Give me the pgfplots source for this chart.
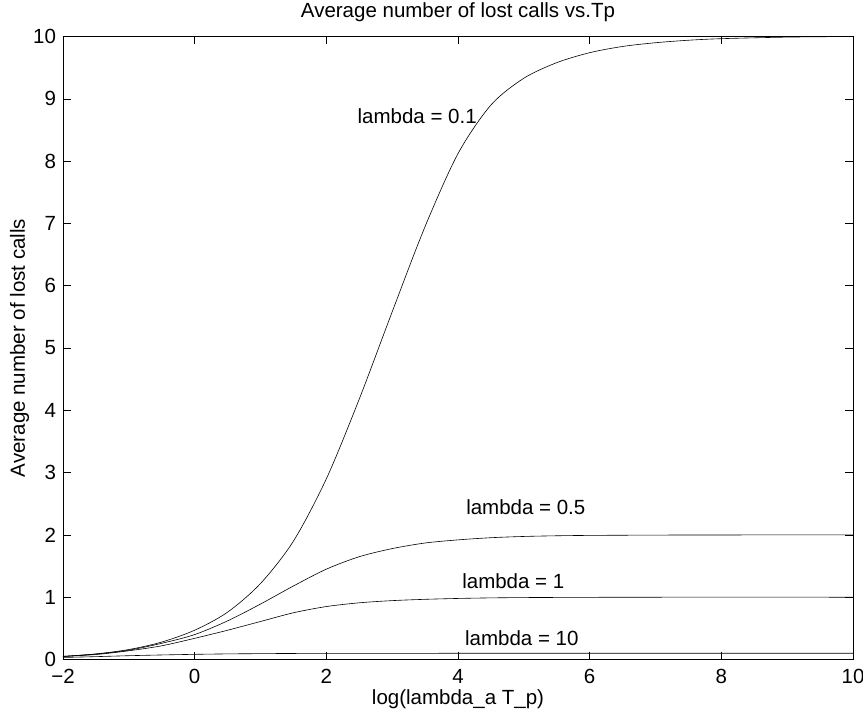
\documentclass[border=0pt]{standalone}
\usepackage{fontspec}
\setmainfont{Liberation Sans}
\usepackage{pgfplots}
\pgfplotsset{compat=1.18}
\begin{document}
\fontsize{20.5}{24}\selectfont
\begin{tikzpicture}
\begin{axis}[
  width=790pt, height=623pt, scale only axis,
  xmin=-2, xmax=10, ymin=0, ymax=10,
  xtick={-2,0,2,4,6,8,10},
  xticklabels={−2,0,2,4,6,8,10},
  ytick={0,1,...,10},
  /pgf/number format/assume math mode=true,
  tick align=inside, tick pos=both,
  major tick length=8pt,
  every tick/.style={black, line width=0.5pt},
  axis line style={line width=0.6pt},
  tick label style={font=\fontsize{20.5}{24}\selectfont},
  xticklabel style={anchor=base, yshift=-23.5pt},
  title={Average number of lost calls vs.Tp},
  title style={at={(axis description cs:0.5,1)}, anchor=base, yshift=12.5pt, font=\fontsize{20.5}{24}\selectfont},
  xlabel={log(lambda\_a T\_p)},
  ylabel={Average number of lost calls},
  every axis x label/.style={at={(axis description cs:0.5,0)}, anchor=base, yshift=-44.5pt, font=\fontsize{20.5}{24}\selectfont},
  every axis y label/.style={at={(axis description cs:0,0.5)}, rotate=90, anchor=base, yshift=38pt, font=\fontsize{20.5}{24}\selectfont},
]
% lambda = 0.1
\addplot[black, line width=0.6pt, smooth] coordinates {
(-2,0.05) (-1.5,0.09) (-1,0.16) (-0.5,0.28) (0,0.47) (0.5,0.76) (1,1.22) (1.5,1.90)
(2,2.90) (2.5,4.18) (3,5.58) (3.5,6.95) (4,8.12) (4.5,8.90) (5,9.33) (5.5,9.58)
(6,9.74) (6.5,9.84) (7,9.90) (7.5,9.94) (8,9.965) (9,9.99) (10,10)};
% lambda = 0.5
\addplot[black, line width=0.6pt, smooth] coordinates {
(-2,0.05) (-1.5,0.087) (-1,0.15) (-0.5,0.26) (0,0.40) (0.5,0.62) (1,0.89) (1.5,1.18)
(2,1.45) (2.5,1.65) (3,1.78) (3.5,1.87) (4,1.92) (4.5,1.955) (5,1.975) (5.5,1.986)
(6,1.992) (7,1.997) (8,1.999) (10,2.0)};
% lambda = 1
\addplot[black, line width=0.6pt, smooth] coordinates {
(-2,0.048) (-1.5,0.08) (-1,0.14) (-0.5,0.22) (0,0.34) (0.5,0.47) (1,0.61) (1.5,0.75)
(2,0.85) (2.5,0.91) (3,0.945) (3.5,0.966) (4,0.98) (4.5,0.989) (5,0.994) (6,0.998)
(7,1.0) (10,1.0)};
% lambda = 10
\addplot[black, line width=0.6pt, smooth] coordinates {
(-2,0.033) (-1.5,0.046) (-1,0.061) (-0.5,0.073) (0,0.083) (0.5,0.09) (1,0.094)
(1.5,0.097) (2,0.098) (3,0.099) (4,0.0997) (6,0.1) (10,0.1)};
\node at (axis cs:3.38,8.72) {lambda = 0.1};
\node at (axis cs:5.03,2.44) {lambda = 0.5};
\node at (axis cs:4.84,1.25) {lambda = 1};
\node at (axis cs:4.97,0.35) {lambda = 10};
\end{axis}
\pgfresetboundingbox
\path (-63pt,-56.5pt) rectangle (800pt,659.5pt);
\end{tikzpicture}
\end{document}
